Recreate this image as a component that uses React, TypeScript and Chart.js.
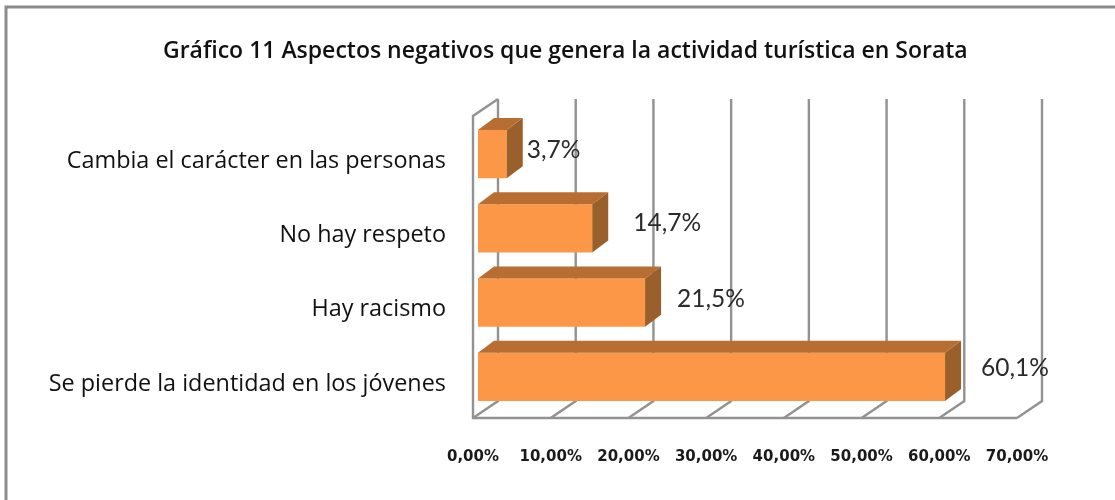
import React, { useEffect, useRef } from "react";
import { Chart, registerables } from "chart.js";

Chart.register(...registerables);

const categories = [
  "Cambia el carácter en las personas",
  "No hay respeto",
  "Hay racismo",
  "Se pierde la identidad en los jóvenes",
];
const values = [3.7, 14.7, 21.5, 60.1];
const valueLabels = ["3,7%", "14,7%", "21,5%", "60,1%"];
const labelShifts = [
  [20, -4],
  [41, -5],
  [32, -4],
  [36, -9],
];
const titleText = "Gráfico 11 Aspectos negativos que genera la actividad turística en Sorata";

const WALL_DX = 25;
const WALL_DY = -17;
const FRONT_SHIFT = -5;
const DEPTH_X = 16;
const DEPTH_Y = -12;
const GRID = "#929292";

const scene3d = {
  id: "scene3d",
  beforeDatasetsDraw(chart: any) {
    const { ctx, chartArea } = chart;
    const xs = chart.scales.x;
    const bottom = chartArea.bottom + 4;
    const top = chartArea.top - 1;
    ctx.save();
    ctx.strokeStyle = GRID;
    ctx.lineWidth = 2.4;
    for (let v = 0; v <= 70; v += 10) {
      const x = xs.getPixelForValue(v) + FRONT_SHIFT;
      ctx.beginPath();
      ctx.moveTo(x, bottom);
      ctx.lineTo(x + WALL_DX, bottom + WALL_DY);
      ctx.lineTo(x + WALL_DX, top + WALL_DY);
      ctx.stroke();
    }
    const x0 = xs.getPixelForValue(0) + FRONT_SHIFT;
    const x1 = xs.getPixelForValue(70) + FRONT_SHIFT;
    ctx.beginPath();
    ctx.moveTo(x0 + WALL_DX, top + WALL_DY);
    ctx.lineTo(x0, top);
    ctx.lineTo(x0, bottom);
    ctx.lineTo(x1, bottom);
    ctx.stroke();
    ctx.restore();
  },
  afterDatasetsDraw(chart: any) {
    const { ctx } = chart;
    const meta = chart.getDatasetMeta(0);
    ctx.save();
    meta.data.forEach((bar: any, i: number) => {
      const h = bar.height / 2;
      const l = bar.base;
      const r = bar.x;
      const t = bar.y - h;
      const b = bar.y + h;
      ctx.fillStyle = "#b86e33";
      ctx.beginPath();
      ctx.moveTo(l, t);
      ctx.lineTo(l + DEPTH_X, t + DEPTH_Y);
      ctx.lineTo(r + DEPTH_X, t + DEPTH_Y);
      ctx.lineTo(r, t);
      ctx.closePath();
      ctx.fill();
      ctx.fillStyle = "#99602b";
      ctx.beginPath();
      ctx.moveTo(r, t);
      ctx.lineTo(r + DEPTH_X, t + DEPTH_Y);
      ctx.lineTo(r + DEPTH_X, b + DEPTH_Y);
      ctx.lineTo(r, b);
      ctx.closePath();
      ctx.fill();
      ctx.fillStyle = "#2b2b2b";
      ctx.font = '24.5px "Lato"';
      ctx.textAlign = "left";
      ctx.textBaseline = "middle";
      ctx.fillText(valueLabels[i], r + labelShifts[i][0], bar.y + labelShifts[i][1]);
    });
    ctx.restore();
  },
};

const frame = {
  id: "frame",
  beforeDraw(chart: any) {
    const { ctx } = chart;
    ctx.save();
    ctx.strokeStyle = "#8c8c8c";
    ctx.lineWidth = 3;
    ctx.beginPath();
    ctx.moveTo(6, 500);
    ctx.lineTo(6, 7);
    ctx.lineTo(1115, 7);
    ctx.stroke();
    ctx.restore();
  },
};

export default function App() {
  const ref = useRef<HTMLCanvasElement>(null);
  useEffect(() => {
    document.body.style.margin = "0";
    const chart = new Chart(ref.current!, {
      type: "bar",
      data: {
        labels: categories,
        datasets: [
          {
            data: values,
            backgroundColor: "#fb9747",
            categoryPercentage: 1,
            barPercentage: 0.65,
          },
        ],
      },
      plugins: [frame, scene3d],
      options: {
        indexAxis: "y",
        responsive: false,
        animation: false,
        layout: { padding: { top: 117, right: 93, left: 0, bottom: 0 } },
        plugins: {
          legend: { display: false },
          tooltip: { enabled: false },
          title: { display: false },
        },
        scales: {
          x: {
            position: "bottom",
            min: 0,
            max: 70,
            afterFit: (s: any) => {
              s.height = 500 - 414;
            },
            grid: { display: false },
            border: { display: false },
            ticks: {
              stepSize: 10,
              maxRotation: 0,
              autoSkip: false,
              padding: 26,
              labelOffset: FRONT_SHIFT,
              color: "#1a1a1a",
              font: { family: "DejaVu Sans", size: 15, weight: "bold" },
              callback: (v: any) => Number(v).toFixed(2).replace(".", ",") + "%",
            },
          },
          y: {
            position: "left",
            afterFit: (s: any) => {
              s.width = 478;
            },
            grid: { display: false },
            border: { display: false },
            ticks: {
              padding: 24,
              labelOffset: 7,
              color: "#111111",
              font: { family: "Open Sans", size: 23.4 },
            },
          },
        },
      } as any,
    });
    return () => chart.destroy();
  }, []);
  return (
    <div style={{ position: "relative", width: 1115, height: 500, background: "#fff", overflow: "hidden" }}>
      <canvas ref={ref} width={1115} height={500} style={{ display: "block" }} />
      <div
        style={{
          position: "absolute",
          left: 163,
          top: 33,
          fontFamily: "Open Sans",
          fontWeight: 600,
          fontSize: 23,
          color: "#111",
          whiteSpace: "nowrap",
        }}
      >
        {titleText}
      </div>
    </div>
  );
}
